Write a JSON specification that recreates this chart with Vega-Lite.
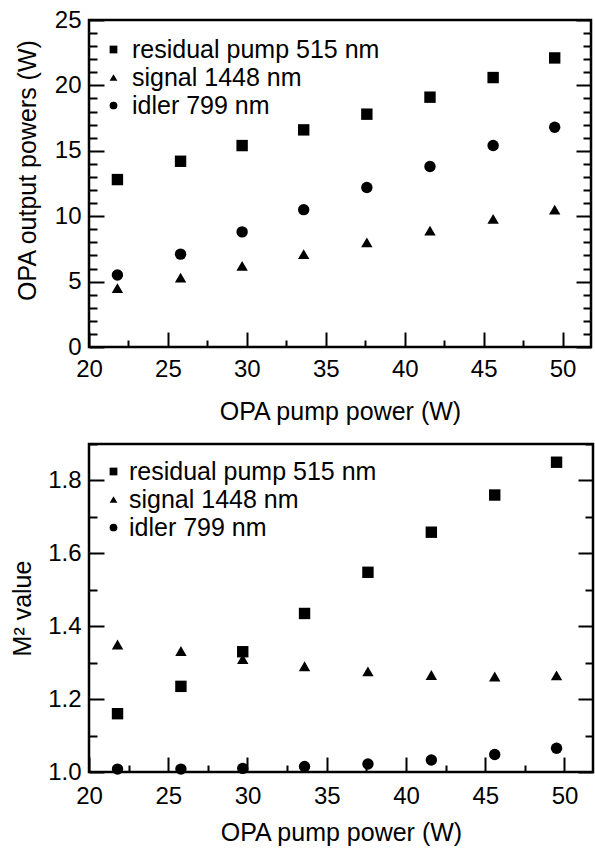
{
  "$schema": "https://vega.github.io/schema/vega-lite/v6.json",
  "background": "white",
  "padding": {"left": 9, "top": 6, "right": 2, "bottom": 0},
  "spacing": 4,
  "resolve": {"scale": {"shape": "independent"}, "legend": {"shape": "independent"}},
  "config": {
    "font": "Liberation Sans",
    "view": {"stroke": "black", "strokeWidth": 2.5},
    "axis": {
      "domain": false, "grid": false, "tickColor": "black", "tickWidth": 2,
      "labelColor": "black", "titleColor": "black", "labelFontSize": 24, "titleFontSize": 25,
      "titleFontWeight": "normal", "labelFont": "Liberation Sans", "titleFont": "Liberation Sans",
      "labelOverlap": false, "labelBound": false, "labelFlush": false
    },
    "legend": {
      "orient": "none", "title": null, "labelFontSize": 25, "labelFont": "Liberation Sans", "labelColor": "black",
      "symbolSize": 60, "symbolFillColor": "black", "symbolStrokeWidth": 0, "rowPadding": 2, "padding": 0, "labelLimit": 400
    }
  },
  "vconcat": [
    {
      "width": 502, "height": 327,
      "data": {"values": [
        {"x": 21.8, "y": 12.8, "series": "residual pump 515 nm"},
        {"x": 25.8, "y": 14.2, "series": "residual pump 515 nm"},
        {"x": 29.7, "y": 15.4, "series": "residual pump 515 nm"},
        {"x": 33.6, "y": 16.6, "series": "residual pump 515 nm"},
        {"x": 37.6, "y": 17.8, "series": "residual pump 515 nm"},
        {"x": 41.6, "y": 19.1, "series": "residual pump 515 nm"},
        {"x": 45.6, "y": 20.6, "series": "residual pump 515 nm"},
        {"x": 49.5, "y": 22.1, "series": "residual pump 515 nm"},
        {"x": 21.8, "y": 4.5, "series": "signal 1448 nm"},
        {"x": 25.8, "y": 5.3, "series": "signal 1448 nm"},
        {"x": 29.7, "y": 6.2, "series": "signal 1448 nm"},
        {"x": 33.6, "y": 7.1, "series": "signal 1448 nm"},
        {"x": 37.6, "y": 8.0, "series": "signal 1448 nm"},
        {"x": 41.6, "y": 8.9, "series": "signal 1448 nm"},
        {"x": 45.6, "y": 9.8, "series": "signal 1448 nm"},
        {"x": 49.5, "y": 10.5, "series": "signal 1448 nm"},
        {"x": 21.8, "y": 5.5, "series": "idler 799 nm"},
        {"x": 25.8, "y": 7.1, "series": "idler 799 nm"},
        {"x": 29.7, "y": 8.8, "series": "idler 799 nm"},
        {"x": 33.6, "y": 10.5, "series": "idler 799 nm"},
        {"x": 37.6, "y": 12.2, "series": "idler 799 nm"},
        {"x": 41.6, "y": 13.8, "series": "idler 799 nm"},
        {"x": 45.6, "y": 15.4, "series": "idler 799 nm"},
        {"x": 49.5, "y": 16.8, "series": "idler 799 nm"}
      ]},
      "layer": [
        {
          "mark": {"type": "point", "filled": true, "opacity": 1, "color": "black", "size": 130},
          "encoding": {
            "x": {"field": "x", "type": "quantitative", "scale": {"domain": [20, 51.8], "nice": false, "zero": false},
              "axis": {"values": [20, 22.5, 25, 27.5, 30, 32.5, 35, 37.5, 40, 42.5, 45, 47.5, 50],
                "labelExpr": "datum.value % 5 === 0 ? datum.label : ''",
                "tickSize": {"condition": {"test": "datum.value % 5 === 0", "value": -15}, "value": -7},
                "labelPadding": 25, "title": "OPA pump power (W)", "titlePadding": 10}},
            "y": {"field": "y", "type": "quantitative", "scale": {"domain": [0, 25], "nice": false},
              "axis": {"values": [0,1,2,3,4,5,6,7,8,9,10,11,12,13,14,15,16,17,18,19,20,21,22,23,24,25],
                "labelExpr": "datum.value % 5 === 0 ? datum.label : ''",
                "tickSize": {"condition": {"test": "datum.value % 5 === 0", "value": -15}, "value": -8},
                "labelPadding": 23, "title": "OPA output powers (W)", "titlePadding": 14, "titleY": 150}},
            "shape": {"field": "series", "type": "nominal",
              "scale": {"domain": ["residual pump 515 nm", "signal 1448 nm", "idler 799 nm"], "range": ["square", "triangle-up", "circle"]},
              "legend": {"legendX": 12, "legendY": 17, "labelOffset": 6}}
          }
        },
        {
          "mark": {"type": "point", "opacity": 0},
          "encoding": {
            "x": {"field": "x", "type": "quantitative",
              "axis": {"orient": "top", "ticks": false, "labels": false, "title": null, "domain": false}},
            "y": {"field": "y", "type": "quantitative",
              "axis": {"orient": "right", "labels": false, "title": null,
                "values": [0,1,2,3,4,5,6,7,8,9,10,11,12,13,14,15,16,17,18,19,20,21,22,23,24,25],
                "tickSize": {"condition": {"test": "datum.value % 5 === 0", "value": -15}, "value": -8}}}
          }
        }
      ],
      "resolve": {"axis": {"x": "independent", "y": "independent"}}
    },
    {
      "width": 504, "height": 328,
      "data": {"values": [
        {"x": 21.8, "y": 1.16, "series": "residual pump 515 nm"},
        {"x": 25.8, "y": 1.235, "series": "residual pump 515 nm"},
        {"x": 29.7, "y": 1.33, "series": "residual pump 515 nm"},
        {"x": 33.6, "y": 1.435, "series": "residual pump 515 nm"},
        {"x": 37.6, "y": 1.548, "series": "residual pump 515 nm"},
        {"x": 41.6, "y": 1.658, "series": "residual pump 515 nm"},
        {"x": 45.6, "y": 1.76, "series": "residual pump 515 nm"},
        {"x": 49.5, "y": 1.85, "series": "residual pump 515 nm"},
        {"x": 21.8, "y": 1.35, "series": "signal 1448 nm"},
        {"x": 25.8, "y": 1.332, "series": "signal 1448 nm"},
        {"x": 29.7, "y": 1.31, "series": "signal 1448 nm"},
        {"x": 33.6, "y": 1.29, "series": "signal 1448 nm"},
        {"x": 37.6, "y": 1.276, "series": "signal 1448 nm"},
        {"x": 41.6, "y": 1.266, "series": "signal 1448 nm"},
        {"x": 45.6, "y": 1.262, "series": "signal 1448 nm"},
        {"x": 49.5, "y": 1.265, "series": "signal 1448 nm"},
        {"x": 21.8, "y": 1.008, "series": "idler 799 nm"},
        {"x": 25.8, "y": 1.008, "series": "idler 799 nm"},
        {"x": 29.7, "y": 1.01, "series": "idler 799 nm"},
        {"x": 33.6, "y": 1.015, "series": "idler 799 nm"},
        {"x": 37.6, "y": 1.022, "series": "idler 799 nm"},
        {"x": 41.6, "y": 1.033, "series": "idler 799 nm"},
        {"x": 45.6, "y": 1.048, "series": "idler 799 nm"},
        {"x": 49.5, "y": 1.065, "series": "idler 799 nm"}
      ]},
      "layer": [
        {
          "mark": {"type": "point", "filled": true, "opacity": 1, "color": "black", "size": 130},
          "encoding": {
            "x": {"field": "x", "type": "quantitative", "scale": {"domain": [20, 51.8], "nice": false, "zero": false},
              "axis": {"values": [20, 22.5, 25, 27.5, 30, 32.5, 35, 37.5, 40, 42.5, 45, 47.5, 50],
                "labelExpr": "datum.value % 5 === 0 ? datum.label : ''",
                "tickSize": {"condition": {"test": "datum.value % 5 === 0", "value": -15}, "value": -7},
                "labelPadding": 27, "title": "OPA pump power (W)", "titlePadding": 4}},
            "y": {"field": "y", "type": "quantitative", "scale": {"domain": [1.0, 1.9], "nice": false, "zero": false},
              "axis": {"values": [1.0, 1.1, 1.2, 1.3, 1.4, 1.5, 1.6, 1.7, 1.8, 1.9], "format": ".1f",
                "labelExpr": "round(datum.value * 10) % 2 === 0 ? datum.label : ''",
                "tickSize": {"condition": {"test": "round(datum.value * 10) % 2 === 0", "value": -15}, "value": -8},
                "labelPadding": 23, "title": "M² value", "titlePadding": 12}},
            "shape": {"field": "series", "type": "nominal",
              "scale": {"domain": ["residual pump 515 nm", "signal 1448 nm", "idler 799 nm"], "range": ["square", "triangle-up", "circle"]},
              "legend": {"legendX": 12, "legendY": 15, "labelOffset": 3}}
          }
        },
        {
          "mark": {"type": "point", "opacity": 0},
          "encoding": {
            "x": {"field": "x", "type": "quantitative",
              "axis": {"orient": "top", "ticks": false, "labels": false, "title": null, "domain": false}},
            "y": {"field": "y", "type": "quantitative",
              "axis": {"orient": "right", "labels": false, "title": null,
                "values": [1.0, 1.1, 1.2, 1.3, 1.4, 1.5, 1.6, 1.7, 1.8, 1.9],
                "tickSize": {"condition": {"test": "round(datum.value * 10) % 2 === 0", "value": -15}, "value": -8}}}
          }
        }
      ],
      "resolve": {"axis": {"x": "independent", "y": "independent"}}
    }
  ]
}
